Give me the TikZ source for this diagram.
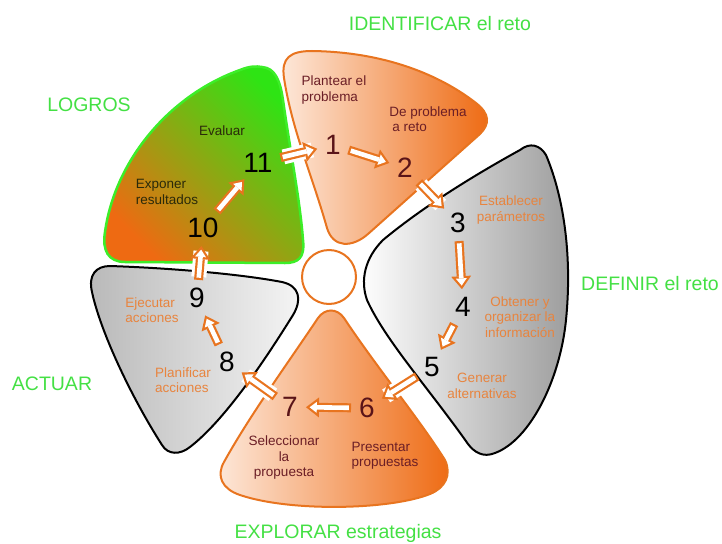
\documentclass[tikz,border=0pt]{standalone}
\usepackage{fontspec}
\setmainfont{Liberation Sans}
\usetikzlibrary{arrows.meta}
\definecolor{peach}{HTML}{FDE8DA}
\definecolor{deeporange}{HTML}{EE6A12}
\definecolor{rimorange}{HTML}{E8741F}
\definecolor{leafgreen}{HTML}{2EE414}
\definecolor{rimgreen}{HTML}{3CEE28}
\definecolor{titlegreen}{HTML}{44E044}
\definecolor{wine}{HTML}{6B1E26}
\definecolor{numwine}{HTML}{5A1418}
\definecolor{textorange}{HTML}{E8843E}
\definecolor{darkgrey}{HTML}{9C9C9C}
\definecolor{olivetext}{HTML}{2A2A0A}
\begin{document}
\begin{tikzpicture}[x=1pt,y=-1pt,
  num/.style={font=\fontsize{28}{28}\selectfont, inner sep=1pt},
  lbl/.style={font=\fontsize{13.5}{15.5}\selectfont, inner sep=0pt},
  stage/.style={font=\fontsize{19.5}{20}\selectfont, text=titlegreen, inner sep=0pt},
  petalorange/.style={draw=rimorange, line width=2pt, left color=peach, right color=deeporange},
  petalgrey/.style={draw=black, line width=2pt, left color=white, right color=darkgrey},
  petalgreen/.style={draw=rimgreen, line width=2.5pt, left color=deeporange, right color=leafgreen, shading angle=135},
  arrowout/.style={draw=rimorange, line width=9pt, shorten <=7pt, shorten >=7pt,
    -{Triangle[length=13pt,width=20pt,line width=0pt]}},
  arrowin/.style={draw=white, line width=4.6pt, shorten <=9.2pt, shorten >=10.6pt,
    -{Triangle[length=7.2pt,width=11pt,line width=0pt]}},
  halo/.style={draw=white, line width=15pt, shorten <=10pt, shorten >=12pt}]
  \useasboundingbox (0,0) rectangle (722,543);

  % petals
  \draw[petalorange] (284,78) .. controls (281,58) and (290,51) .. (312,51)
    .. controls (385,52) and (440,75) .. (476,103)
    .. controls (490,114) and (490,124) .. (480,134)
    -- (368,234)
    .. controls (352,248) and (333,248) .. (327,228)
    .. controls (312,175) and (292,130) .. (284,78) -- cycle;
  \draw[petalgrey] (520,150) .. controls (530,142) and (540,145) .. (546,155)
    .. controls (565,200) and (572,260) .. (566,320)
    .. controls (560,380) and (530,440) .. (495,453)
    .. controls (483,458) and (474,452) .. (468,444)
    .. controls (430,390) and (385,340) .. (367,300)
    .. controls (360,280) and (365,258) .. (383,240)
    .. controls (425,205) and (480,172) .. (520,150) -- cycle;
  \draw[petalorange] (318,318) .. controls (325,308) and (337,308) .. (344,318)
    .. controls (375,365) and (420,420) .. (445,460)
    .. controls (452,475) and (445,488) .. (430,494)
    .. controls (390,510) and (290,512) .. (240,495)
    .. controls (222,489) and (216,476) .. (224,462)
    .. controls (250,415) and (290,360) .. (318,318) -- cycle;
  \draw[petalgrey, left color=gray!55, right color=gray!8]
    (110,266) .. controls (170,268) and (240,274) .. (282,282)
    .. controls (300,286) and (302,300) .. (293,315)
    .. controls (265,360) and (225,420) .. (190,447)
    .. controls (180,455) and (168,455) .. (162,445)
    .. controls (130,395) and (100,330) .. (92,292)
    .. controls (88,275) and (96,266) .. (110,266) -- cycle;
  \draw[petalgreen] (262,67) .. controls (275,68) and (280,80) .. (283,100)
    .. controls (290,150) and (300,200) .. (303,240)
    .. controls (305,258) and (298,263) .. (285,263)
    -- (125,262)
    .. controls (108,262) and (102,250) .. (105,232)
    .. controls (115,160) and (170,95) .. (240,70)
    .. controls (250,66) and (256,66) .. (262,67) -- cycle;
  \draw[draw=rimorange, line width=2pt, fill=white] (329,277) circle (27);

  % steps
  \foreach \n/\x/\y/\c in {1/333/145/numwine, 2/405/168/numwine, 3/458/223/black,
      4/463/307/black, 5/432/367/black, 6/367/408/numwine, 7/290/407/numwine,
      8/227/362/black, 9/197/298/black, 10/203/228/black, 11/258/163/black}
    \node[num, text=\c] (n\n) at (\x,\y) {\n};

  \foreach \a/\b in {n2/n3,n5/n6,n7/n8,n9/n10,n11/n1}
    \draw[halo] (\a) -- (\b);
  \foreach \a/\b in {n1/n2,n2/n3,n3/n4,n4/n5,n5/n6,n6/n7,n7/n8,n8/n9,n9/n10,n10/n11,n11/n1}
  {
    \draw[arrowout] (\a) -- (\b);
    \draw[arrowin] (\a) -- (\b);
  }

  % texts
  \node[lbl, text=wine, align=left] (lplantear) at (334,90) {Plantear el\\problema};
  \node[lbl, text=wine, align=left] (lreto) at (428,119) {De problema\\\hspace{3pt}a reto};
  \node[lbl, text=olivetext] (levaluar) at (222,131) {Evaluar};
  \node[lbl, text=olivetext, align=left] (lexponer) at (167,192) {Exponer\\resultados};
  \node[lbl, text=textorange, align=center] (lestablecer) at (511,210) {Establecer\\parámetros};
  \node[lbl, text=textorange, align=center] (lobtener) at (520,317) {Obtener y\\organizar la\\información};
  \node[lbl, text=textorange, align=center] (lgenerar) at (482,386) {Generar\\alternativas};
  \node[lbl, text=textorange, align=left] (lejecutar) at (152,310) {Ejecutar\\acciones};
  \node[lbl, text=textorange, align=left] (lplanificar) at (183,380) {Planificar\\acciones};
  \node[lbl, text=wine, align=center] (lseleccionar) at (284,458) {Seleccionar\\la\\propuesta};
  \node[lbl, text=wine, align=left] (lpresentar) at (385,456) {Presentar\\propuestas};

  % stages
  \node[stage] (sidentificar) at (440,24) {IDENTIFICAR el reto};
  \node[stage] (slogros) at (89,105) {LOGROS};
  \node[stage] (sdefinir) at (650,284) {DEFINIR el reto};
  \node[stage] (sactuar) at (52,384) {ACTUAR};
  \node[stage] (sexplorar) at (338,533) {EXPLORAR estrategias};
\end{tikzpicture}
\end{document}
